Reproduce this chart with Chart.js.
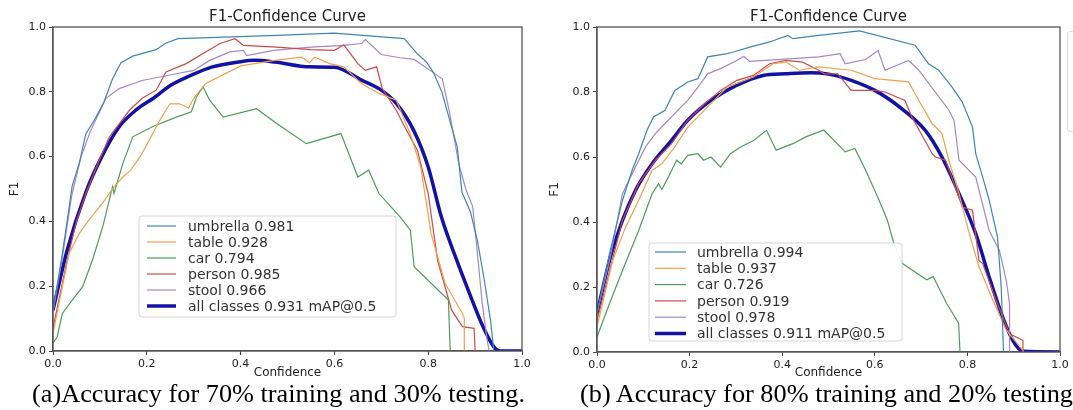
<!DOCTYPE html>
<html>
<head>
<meta charset="utf-8">
<script src="https://cdn.jsdelivr.net/npm/chart.js@4.4.1/dist/chart.umd.min.js"></script>
<style>
  html, body { margin: 0; padding: 0; background: #fff; }
  body { width: 1073px; height: 410px; position: relative; overflow: hidden; }
  .panel { position: absolute; top: 0; }
  #panelA { left: 0; }
  #panelB { left: 540px; }
  .caption {
    position: absolute; top: 381px; line-height: 26px;
    font-family: "Liberation Serif", "Times New Roman", serif; font-size: 26px;
    color: #000; white-space: nowrap; transform-origin: 0 0;
  }
  #capA { left: 32px; }
  #capB { left: 580px; }
  #stray { position: absolute; left: 1067px; top: 31px; width: 40px; height: 99px; border: 1px solid #ddd; border-radius: 3px; }
</style>
</head>
<body>
<div class="panel" id="panelA"><canvas id="chartA" width="540" height="390"></canvas></div>
<div class="panel" id="panelB"><canvas id="chartB" width="533" height="390"></canvas></div>
<div id="stray"></div>
<div class="caption" id="capA">(a)Accuracy for 70% training and 30% testing.</div>
<div class="caption" id="capB">(b) Accuracy for 80% training and 20% testing</div>

<script>
// classes, colours and scores shown in the legends
const classNames = ["umbrella", "table", "car", "person", "stool"];
const classColors = ["#3f86b8", "#f2a04c", "#4c9e58", "#d04848", "#a488c8"];
const allColor = "#1212a6";
const scoresA = [0.981, 0.928, 0.794, 0.985, 0.966];
const allScoreA = 0.931;
const scoresB = [0.994, 0.937, 0.726, 0.919, 0.978];
const allScoreB = 0.911;
const tickValues = [0, 0.2, 0.4, 0.6, 0.8, 1.0];

// (a) 70/30 split : [confidence, F1]
const umbrellaA = [[0,.126],[.02,.30],[.041,.51],[.056,.58],[.07,.67],[.091,.72],[.109,.77],[.127,.84],[.145,.89],[.17,.91],[.22,.93],[.24,.95],[.266,.964],[.35,.968],[.477,.974],[.6,.981],[.749,.964],[.775,.92],[.796,.892],[.811,.86],[.829,.80],[.844,.722],[.862,.629],[.872,.49],[.89,.43],[.905,.34],[.92,.216],[.933,.093],[.94,0]];
const tableA = [[0,.055],[.034,.30],[.056,.363],[.077,.405],[.106,.457],[.131,.508],[.149,.537],[.166,.558],[.19,.61],[.227,.71],[.249,.763],[.27,.763],[.289,.75],[.30,.78],[.325,.825],[.40,.88],[.473,.897],[.53,.907],[.547,.89],[.558,.907],[.59,.887],[.62,.877],[.658,.825],[.695,.795],[.732,.774],[.762,.67],[.784,.568],[.806,.363],[.836,.209],[.873,.116],[.877,.1],[.877,0]];
const carA = [[0,.024],[.009,.044],[.02,.116],[.041,.157],[.063,.198],[.084,.28],[.106,.383],[.127,.507],[.13,.486],[.149,.579],[.17,.661],[.213,.693],[.263,.722],[.295,.738],[.306,.784],[.32,.815],[.334,.774],[.363,.722],[.434,.748],[.477,.702],[.54,.64],[.614,.671],[.65,.537],[.673,.558],[.695,.486],[.74,.414],[.762,.373],[.77,.26],[.843,.157],[.847,0]];
const personA = [[0,.07],[.03,.28],[.05,.40],[.07,.486],[.099,.59],[.12,.66],[.163,.743],[.19,.78],[.22,.805],[.241,.861],[.284,.887],[.32,.918],[.356,.949],[.388,.964],[.406,.943],[.477,.938],[.55,.93],[.6,.928],[.62,.945],[.65,.887],[.666,.866],[.69,.877],[.702,.81],[.732,.743],[.747,.70],[.777,.62],[.80,.486],[.82,.28],[.85,.126],[.873,.075],[.898,.07],[.9,0]];
const stoolA = [[0,.12],[.02,.29],[.04,.48],[.06,.60],[.08,.68],[.1,.74],[.113,.78],[.141,.81],[.19,.835],[.26,.855],[.30,.866],[.334,.897],[.377,.923],[.406,.928],[.413,.912],[.47,.928],[.55,.938],[.62,.943],[.658,.949],[.666,.961],[.70,.915],[.74,.905],[.77,.90],[.80,.87],[.83,.84],[.845,.74],[.865,.58],[.88,.50],[.895,.445],[.905,.30],[.915,.15],[.925,.04],[.93,0]];
const allA = [[0,.126],[.03,.31],[.07,.49],[.104,.60],[.14,.69],[.178,.745],[.214,.78],[.251,.82],[.296,.852],[.34,.877],[.40,.893],[.43,.897],[.473,.892],[.547,.877],[.6,.876],[.658,.836],[.70,.805],[.732,.764],[.769,.681],[.80,.568],[.828,.414],[.858,.291],[.888,.178],[.917,.075],[.94,.013],[.954,0],[1.0,0]];

// (b) 80/20 split : [confidence, F1]
const umbrellaB = [[0,.118],[.027,.303],[.055,.467],[.076,.559],[.09,.61],[.108,.682],[.122,.723],[.147,.744],[.168,.805],[.196,.831],[.218,.841],[.239,.908],[.281,.918],[.295,.923],[.33,.938],[.373,.954],[.412,.974],[.423,.964],[.479,.974],[.567,.988],[.687,.944],[.716,.887],[.738,.867],[.767,.815],[.789,.769],[.811,.692],[.818,.61],[.833,.538],[.847,.467],[.865,.354],[.873,.20],[.878,0]];
const tableB = [[0,.077],[.034,.282],[.062,.385],[.09,.467],[.119,.559],[.14,.579],[.168,.631],[.196,.692],[.232,.744],[.253,.774],[.281,.815],[.338,.846],[.38,.887],[.408,.892],[.437,.867],[.479,.877],[.549,.867],[.6,.841],[.673,.831],[.695,.774],[.724,.703],[.745,.672],[.76,.59],[.782,.487],[.804,.364],[.825,.262],[.855,.159],[.884,.067],[.92,.005],[.92,0]];
const carB = [[0,.046],[.027,.149],[.055,.251],[.09,.374],[.119,.487],[.133,.518],[.14,.50],[.154,.538],[.172,.59],[.182,.579],[.196,.605],[.218,.61],[.23,.59],[.246,.60],[.267,.569],[.288,.61],[.31,.631],[.338,.651],[.366,.682],[.387,.621],[.423,.641],[.451,.662],[.49,.683],[.536,.616],[.557,.626],[.58,.56],[.609,.468],[.627,.406],[.64,.34],[.659,.273],[.712,.222],[.726,.232],[.755,.15],[.781,.089],[.784,0]];
const personB = [[0,.097],[.055,.405],[.09,.518],[.126,.59],[.161,.641],[.196,.713],[.232,.764],[.267,.805],[.302,.836],[.338,.851],[.373,.887],[.408,.897],[.444,.892],[.479,.867],[.491,.856],[.52,.856],[.549,.805],[.6,.805],[.622,.80],[.665,.774],[.68,.723],[.724,.61],[.731,.60],[.753,.59],[.789,.446],[.811,.436],[.825,.282],[.833,.272],[.862,.159],[.891,.056],[.92,.036],[.92,0]];
const stoolB = [[0,.118],[.03,.30],[.055,.487],[.083,.569],[.105,.631],[.126,.672],[.147,.703],[.175,.744],[.196,.774],[.218,.815],[.239,.856],[.267,.872],[.302,.897],[.317,.91],[.33,.894],[.479,.908],[.525,.918],[.536,.887],[.58,.90],[.607,.928],[.622,.867],[.673,.897],[.695,.867],[.76,.744],[.771,.713],[.782,.59],[.818,.538],[.847,.374],[.869,.313],[.884,.22],[.891,.149],[.891,0]];
const allB = [[0,.118],[.027,.282],[.055,.405],[.083,.497],[.119,.579],[.161,.651],[.196,.713],[.246,.774],[.302,.821],[.359,.851],[.408,.856],[.462,.859],[.5,.855],[.549,.836],[.6,.805],[.658,.749],[.709,.682],[.745,.60],[.782,.487],[.818,.364],[.847,.231],[.876,.108],[.898,.036],[.92,.002],[1.0,0]];

Chart.defaults.font.family = '"DejaVu Sans", sans-serif';
Chart.defaults.color = "#222";

const toPoints = arr => arr.map(p => ({ x: p[0], y: p[1] }));

function buildDatasets(series, scores, all, allScore) {
  const ds = series.map((s, i) => ({
    label: classNames[i] + " " + scores[i].toFixed(3),
    data: toPoints(s),
    borderColor: classColors[i],
    borderWidth: 1.2,
    pointRadius: 0,
    tension: 0
  }));
  ds.push({
    label: "all classes " + allScore.toFixed(3) + " mAP@0.5",
    data: toPoints(all),
    borderColor: allColor,
    borderWidth: 3.5,
    pointRadius: 0,
    cubicInterpolationMode: "monotone"
  });
  return ds;
}

// legend box drawn inside the plot, like matplotlib
const boxLegend = {
  id: "boxLegend",
  afterDatasetsDraw(chart, args, opts) {
    const { ctx, chartArea } = chart;
    const x = chartArea.left + opts.x, y = chartArea.top + opts.y;
    ctx.save();
    ctx.beginPath();
    ctx.roundRect(x, y, opts.w, opts.h, 3);
    ctx.fillStyle = "rgba(255,255,255,0.9)";
    ctx.fill();
    ctx.strokeStyle = "#d6d6d6";
    ctx.lineWidth = 1;
    ctx.stroke();
    ctx.font = '14px "DejaVu Sans"';
    ctx.textBaseline = "middle";
    chart.data.datasets.forEach((ds, i) => {
      const ry = y + opts.first + i * opts.gap;
      ctx.strokeStyle = ds.borderColor;
      ctx.lineWidth = ds.borderWidth;
      ctx.beginPath();
      ctx.moveTo(x + opts.lx0, ry);
      ctx.lineTo(x + opts.lx1, ry);
      ctx.stroke();
      ctx.fillStyle = "#333";
      ctx.fillText(ds.label, x + opts.tx, ry + 1);
    });
    ctx.restore();
  }
};

const frameBox = {
  id: "frameBox",
  afterDraw(chart) {
    const { ctx, chartArea: a } = chart;
    ctx.save();
    ctx.strokeStyle = "#555";
    ctx.lineWidth = 1.3;
    ctx.strokeRect(a.left, a.top, a.right - a.left, a.bottom - a.top);
    ctx.restore();
  }
};

function axis(title, fit) {
  return {
    type: "linear",
    min: 0,
    max: 1,
    afterBuildTicks: s => { s.ticks = tickValues.map(v => ({ value: v })); },
    afterFit: fit,
    ticks: { callback: v => v.toFixed(1), font: { size: 11 }, color: "#222", padding: 3, maxRotation: 0, autoSkip: false },
    grid: { drawOnChartArea: false, drawTicks: true, tickLength: 4, color: "#444" },
    border: { display: true, color: "#555", width: 1.3 },
    title: { display: true, text: title, font: { size: 12 }, padding: 0, color: "#222" }
  };
}

function makeChart(id, datasets, cfg) {
  return new Chart(document.getElementById(id), {
    type: "line",
    data: { datasets },
    options: {
      responsive: false,
      animation: false,
      layout: { padding: { left: 8, right: cfg.padRight, top: 0, bottom: 10 } },
      scales: {
        x: axis("Confidence", s => { s.height = cfg.xHeight; }),
        y: axis("F1", s => { s.width = cfg.yWidth; })
      },
      plugins: {
        legend: { display: false },
        tooltip: { enabled: false },
        title: {
          display: true,
          text: "F1-Confidence Curve",
          fullSize: false,
          font: { size: 15, weight: "normal" },
          color: "#222",
          padding: { top: 8, bottom: 1 }
        },
        boxLegend: cfg.legend
      }
    },
    plugins: [boxLegend, frameBox]
  });
}

makeChart("chartA",
  buildDatasets([umbrellaA, tableA, carA, personA, stoolA], scoresA, allA, allScoreA),
  { padRight: 18, xHeight: 29, yWidth: 45,
    legend: { x: 86, y: 189, w: 257, h: 101, first: 10, gap: 16, lx0: 8, lx1: 37, tx: 49 } });

makeChart("chartB",
  buildDatasets([umbrellaB, tableB, carB, personB, stoolB], scoresB, allB, allScoreB),
  { padRight: 13, xHeight: 28, yWidth: 49,
    legend: { x: 52, y: 216, w: 253, h: 98, first: 9, gap: 16.3, lx0: 6, lx1: 37, tx: 48 } });

// squeeze the captions to the width they take in the figure
const capA = document.getElementById("capA");
const capB = document.getElementById("capB");
const k = 493 / capA.getBoundingClientRect().width;
capA.style.transform = "scaleX(" + k + ")";
capB.style.transform = "scaleX(" + k + ")";
</script>
</body>
</html>
